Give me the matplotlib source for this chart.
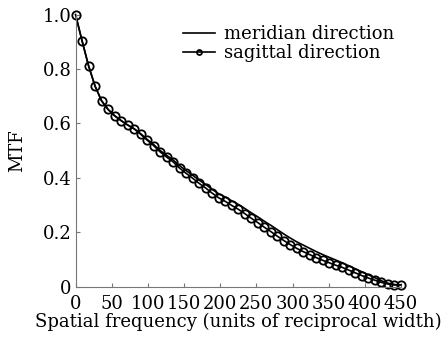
import matplotlib
matplotlib.use("Agg")
import matplotlib.pyplot as plt

plt.rcParams["font.family"] = ["DejaVu Serif"]

# spatial frequency samples (units of reciprocal width)
freq = list(range(0, 451, 9))

sagittal = [
    1.000, 0.904, 0.812, 0.737, 0.683, 0.651, 0.628, 0.610, 0.594, 0.580,
    0.560, 0.538, 0.518, 0.495, 0.476, 0.458, 0.435, 0.416, 0.398, 0.379,
    0.362, 0.343, 0.326, 0.313, 0.298, 0.284, 0.268, 0.251, 0.235, 0.218,
    0.202, 0.185, 0.169, 0.154, 0.140, 0.128, 0.117, 0.106, 0.096, 0.087,
    0.078, 0.070, 0.060, 0.050, 0.040, 0.031, 0.023, 0.015, 0.009, 0.006,
    0.006,
]

meridian = [
    1.000, 0.904, 0.812, 0.737, 0.683, 0.651, 0.628, 0.610, 0.594, 0.580,
    0.562, 0.541, 0.522, 0.500, 0.482, 0.465, 0.444, 0.426, 0.409, 0.391,
    0.375, 0.357, 0.341, 0.329, 0.315, 0.302, 0.287, 0.271, 0.256, 0.240,
    0.225, 0.209, 0.193, 0.178, 0.164, 0.152, 0.140, 0.128, 0.117, 0.107,
    0.097, 0.087, 0.076, 0.065, 0.054, 0.043, 0.032, 0.021, 0.012, 0.007,
    0.006,
]

xticks = [0, 50, 100, 150, 200, 250, 300, 350, 400, 450]
yticks = [0, 0.2, 0.4, 0.6, 0.8, 1.0]
ytick_labels = ["0", "0.2", "0.4", "0.6", "0.8", "1.0"]

fig = plt.figure(figsize=(4.48, 3.41), dpi=100)
ax = fig.add_axes([75.5 / 448, 1 - 286.5 / 341, (401 - 75.5) / 448, (286.5 - 14.5) / 341])

ax.plot(freq, meridian, color="black", lw=1.2, label="meridian direction")
ax.plot(freq, sagittal, color="black", lw=1.2, marker="o", ms=6,
        mfc="none", mec="black", mew=1.3, label="sagittal direction",
        clip_on=False)

ax.set_xlim(0, 450)
ax.set_ylim(0, 1.0)
ax.set_xticks(xticks)
ax.set_yticks(yticks)
ax.set_yticklabels(ytick_labels)

for side in ["top", "right"]:
    ax.spines[side].set_visible(False)
for side in ["left", "bottom"]:
    ax.spines[side].set_color("#777777")
    ax.spines[side].set_linewidth(0.8)
ax.tick_params(direction="in", length=3, width=0.8, color="#777777",
               labelsize=13, pad=3)
ax.tick_params(axis="x", pad=6)

ax.set_xlabel("Spatial frequency (units of reciprocal width)", fontsize=13,
              labelpad=0)
ax.set_ylabel("MTF", fontsize=13, labelpad=12)

ax.legend(loc="upper left", frameon=False, fontsize=13, handlelength=1.75,
          handletextpad=0.5, labelspacing=0.05, markerscale=0.6,
          borderpad=0, borderaxespad=0, bbox_to_anchor=(0.33, 0.96))

fig.savefig("out.png", dpi=100)
